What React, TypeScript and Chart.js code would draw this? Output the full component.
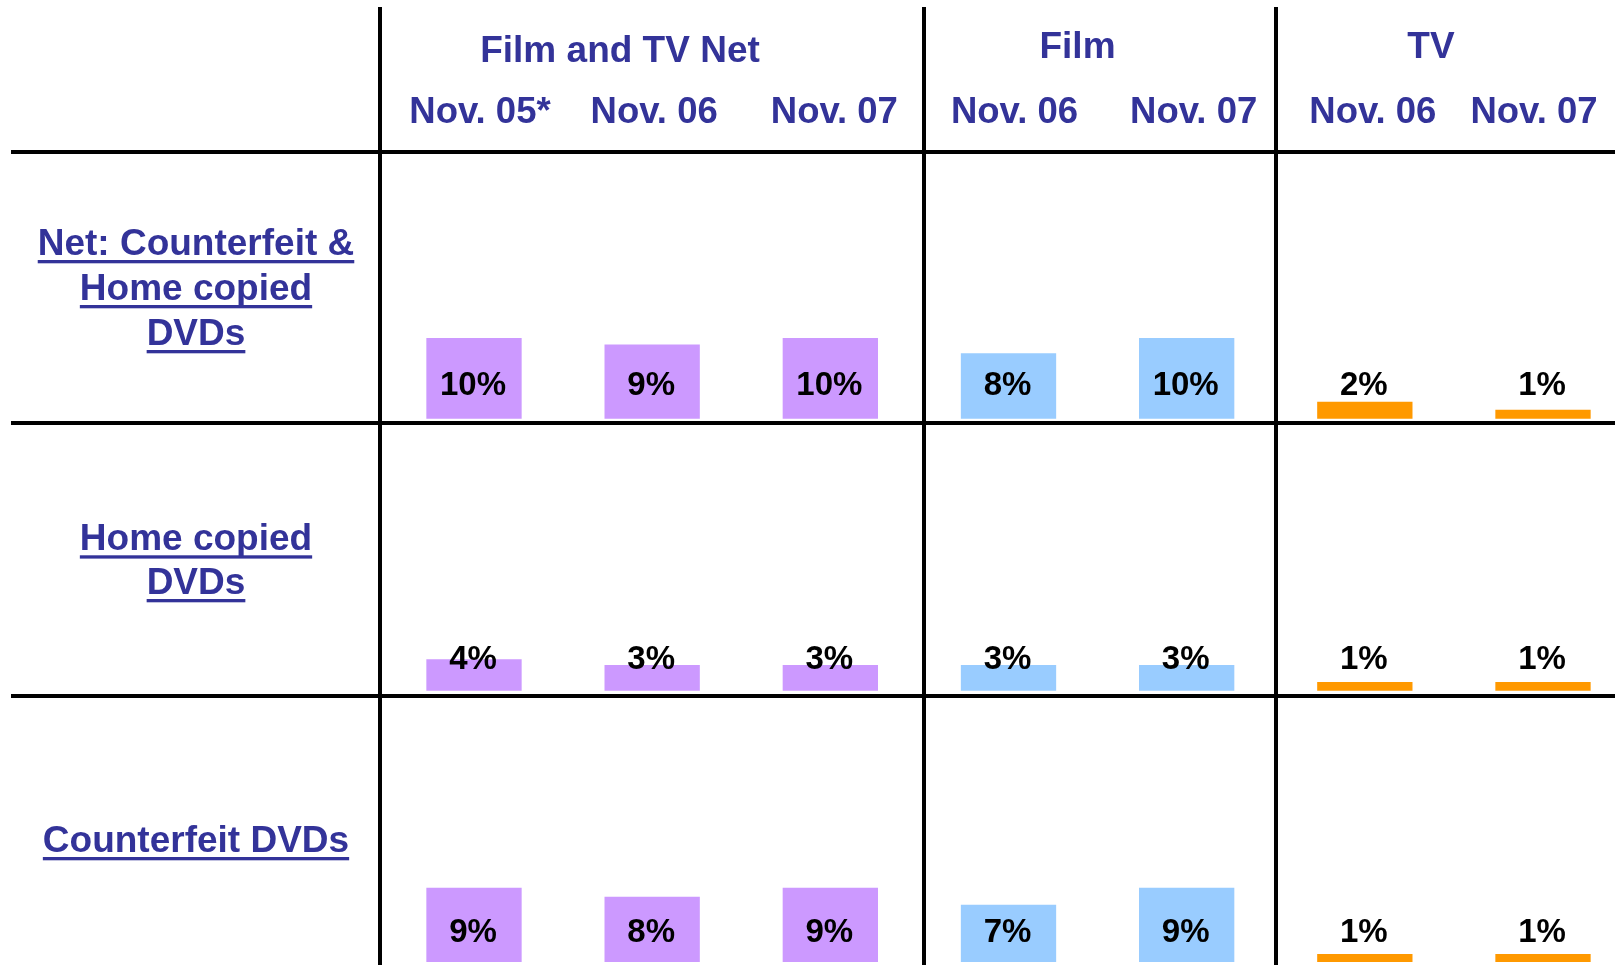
import React, { useEffect, useRef } from 'react';
import { Chart, registerables } from 'chart.js';

Chart.register(...registerables);

// ---- data ----
const categories = ['Nov. 05*', 'Nov. 06', 'Nov. 07', 'Nov. 06', 'Nov. 07', 'Nov. 06', 'Nov. 07'];
const groupLabels = ['Film and TV Net', 'Film', 'TV'];
const groupOfCategory = [0, 0, 0, 1, 1, 2, 2];
const rowLabels = [
  ['Net: Counterfeit &', 'Home copied', 'DVDs'],
  ['Home copied', 'DVDs'],
  ['Counterfeit DVDs'],
];
const netValues = [10, 9.2, 10, 8.1, 10, 2.1, 1.1];
const homeCopiedValues = [3.9, 3.2, 3.2, 3.2, 3.2, 1.1, 1.1];
const counterfeitValues = [9.2, 8.1, 9.2, 7.1, 9.2, 1.0, 1.0];
const rowValues = [netValues, homeCopiedValues, counterfeitValues];
const groupColors = ['#CC99FF', '#99CCFF', '#FF9900'];

// ---- layout (page coordinates) ----
const W = 1615;
const H = 965;
const BLUE = '#333399';
const FONT = '"Liberation Sans", Arial, Helvetica, sans-serif';
const rowLayout = [
  { top: 0, height: 423, padTop: 176.6, padBottom: 4.3, labelY: 395, textY: [255, 300, 345] },
  { top: 423, height: 273, padTop: 25.7, padBottom: 5.2, labelY: 668.5, textY: [550.3, 594] },
  { top: 696, height: 269, padTop: 23.9, padBottom: 3, labelY: 941.5, textY: [852] },
];
const groupTextPos = [
  { x: 620, y: 61.7 },
  { x: 1077.5, y: 58.3 },
  { x: 1431, y: 58.3 },
];
const headerNudge = [6, 2, 4, 6, 7, 8, -9];
const vLinesX = [380, 924, 1276];
const hLinesY = [152, 423, 696];

function drawUnderlined(ctx: CanvasRenderingContext2D, text: string, x: number, y: number) {
  ctx.fillText(text, x, y);
  const w = ctx.measureText(text).width;
  ctx.fillRect(x - w / 2, y + 5, w, 3.3);
}

function makePlugin(rowIndex: number) {
  const lay = rowLayout[rowIndex];
  return {
    id: 'tableDecor' + rowIndex,
    beforeDatasetsDraw(chart: any) {
      const ctx: CanvasRenderingContext2D = chart.ctx;
      ctx.save();
      ctx.translate(0, -lay.top);
      ctx.fillStyle = '#000';
      for (const x of vLinesX) ctx.fillRect(x - 2, 7, 4, H - 7);
      for (const y of hLinesY) ctx.fillRect(11, y - 2, W - 11, 4);
      ctx.restore();
    },
    afterDatasetsDraw(chart: any) {
      const ctx: CanvasRenderingContext2D = chart.ctx;
      const xScale = chart.scales.x;
      const data = chart.data.datasets[0].data as number[];
      ctx.save();
      ctx.translate(0, -lay.top);
      ctx.textAlign = 'center';
      ctx.textBaseline = 'alphabetic';
      // data labels
      ctx.fillStyle = '#000';
      ctx.font = 'bold 33px ' + FONT;
      data.forEach((v, i) => {
        ctx.fillText(Math.round(v) + '%', xScale.getPixelForValue(i) - 1, lay.labelY);
      });
      // row labels
      ctx.fillStyle = BLUE;
      ctx.font = 'bold 37px ' + FONT;
      rowLabels[rowIndex].forEach((t, i) => drawUnderlined(ctx, t, 196, lay.textY[i]));
      // header
      if (rowIndex === 0) {
        groupLabels.forEach((g, i) => ctx.fillText(g, groupTextPos[i].x, groupTextPos[i].y));
        ctx.font = 'bold 36.5px ' + FONT;
        categories.forEach((c, i) => ctx.fillText(c, xScale.getPixelForValue(i) + headerNudge[i], 123.3));
      }
      ctx.restore();
    },
  };
}

function RowChart({ rowIndex }: { rowIndex: number }) {
  const ref = useRef<HTMLCanvasElement | null>(null);
  const lay = rowLayout[rowIndex];
  useEffect(() => {
    if (!ref.current) return;
    const chart = new Chart(ref.current, {
      type: 'bar',
      data: {
        labels: categories,
        datasets: [
          {
            data: rowValues[rowIndex],
            backgroundColor: groupOfCategory.map((g) => groupColors[g]),
            borderWidth: 0,
            barPercentage: 0.535,
            categoryPercentage: 1,
            clip: false as any,
          },
        ],
      },
      options: {
        responsive: false,
        animation: false,
        devicePixelRatio: 1,
        layout: { padding: { left: 474, right: W - 1543, top: lay.padTop, bottom: lay.padBottom } },
        scales: {
          x: { display: false, offset: false },
          y: { display: false, min: 0, max: 30 },
        },
        plugins: { legend: { display: false }, tooltip: { enabled: false } },
        events: [],
      },
      plugins: [makePlugin(rowIndex)],
    });
    return () => chart.destroy();
  }, [rowIndex]);
  return (
    <canvas
      ref={ref}
      width={W}
      height={lay.height}
      style={{ position: 'absolute', left: 0, top: lay.top, width: W, height: lay.height, display: 'block' }}
    />
  );
}

export default function App() {
  return (
    <div style={{ position: 'absolute', left: 0, top: 0, width: W, height: H, background: '#fff', overflow: 'hidden' }}>
      {[0, 1, 2].map((i) => (
        <RowChart key={i} rowIndex={i} />
      ))}
    </div>
  );
}
